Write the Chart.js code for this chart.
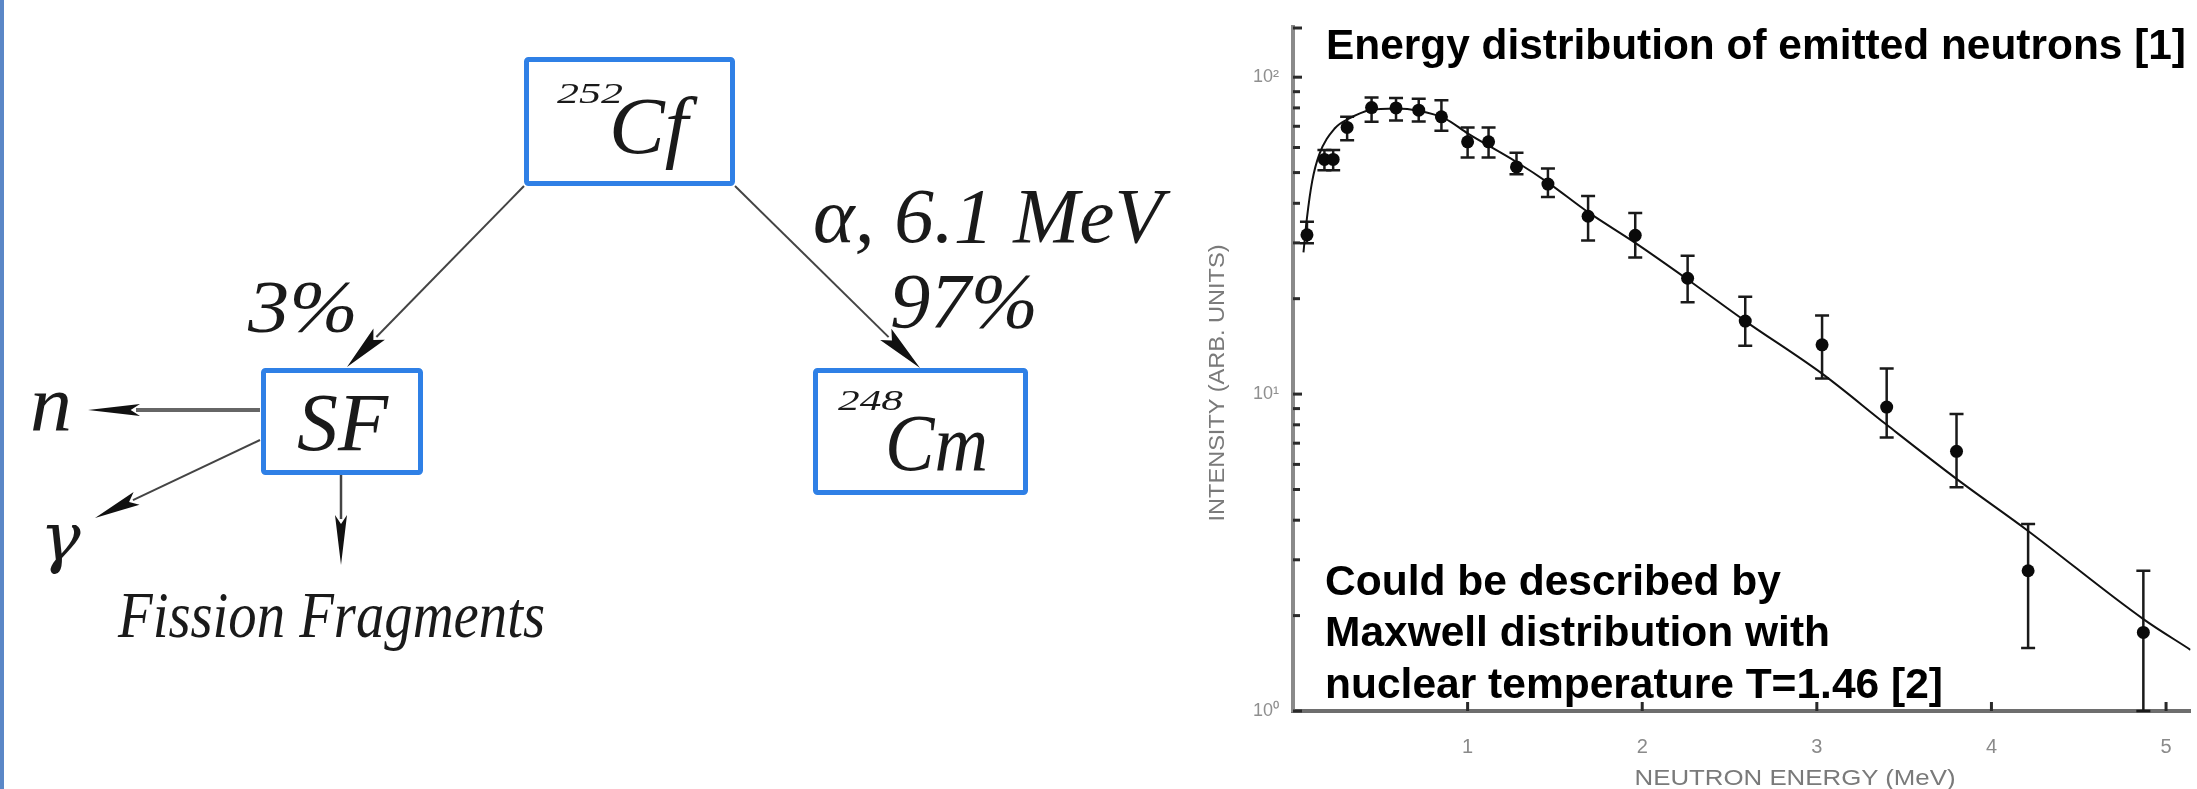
<!DOCTYPE html>
<html><head><meta charset="utf-8">
<script src="https://cdn.jsdelivr.net/npm/chart.js@4.4.0/dist/chart.umd.min.js"></script>
<style>
html,body{margin:0;padding:0;background:#fff;width:2197px;height:789px;overflow:hidden;}
#wrap{position:relative;width:2197px;height:789px;background:#fff;}
#chartBox{position:absolute;left:1180px;top:0;width:1017px;height:789px;}
#ov{position:absolute;left:0;top:0;pointer-events:none;}
.dg{font-family:"Liberation Serif","Times New Roman",serif;font-style:italic;fill:#1a1a1a;}
.gm{font-family:"DejaVu Serif",serif;font-style:italic;fill:#1a1a1a;}
.cb{font-family:"Liberation Sans",Arial,sans-serif;font-weight:bold;fill:#000;}
.ax{font-family:"Liberation Sans",Arial,sans-serif;fill:#7a7a7a;}
</style></head><body>
<div id="wrap">
<div id="chartBox"><canvas id="c" width="1017" height="789" style="width:1017px;height:789px"></canvas></div>
<svg id="ov" width="2197" height="789" xmlns="http://www.w3.org/2000/svg">
  <rect x="0" y="0" width="4" height="789" fill="#5b87c7"/>
  <g fill="none" stroke="#2f80e6" stroke-width="5">
    <rect x="526.5" y="59.5" width="206" height="124" rx="2"/>
    <rect x="263.5" y="370.5" width="157" height="102" rx="2"/>
    <rect x="815.5" y="370.5" width="210" height="122" rx="2"/>
  </g>
  <g id="arrows"></g>
  <text class="dg" x="557" y="103" font-size="29" textLength="66" lengthAdjust="spacingAndGlyphs">252</text>
  <text class="dg" x="609" y="153" font-size="80" textLength="79" lengthAdjust="spacingAndGlyphs">Cf</text>
  <text class="dg" x="248" y="332" font-size="75" textLength="110" lengthAdjust="spacingAndGlyphs">3%</text>
  <text class="dg" x="813" y="242" font-size="78" textLength="350" lengthAdjust="spacingAndGlyphs">α, 6.1 MeV</text>
  <text class="dg" x="890" y="327" font-size="78" textLength="148" lengthAdjust="spacingAndGlyphs">97%</text>
  <text class="dg" x="297" y="450" font-size="82" textLength="91" lengthAdjust="spacingAndGlyphs">SF</text>
  <text class="dg" x="838" y="410" font-size="30" textLength="65" lengthAdjust="spacingAndGlyphs">248</text>
  <text class="dg" x="885" y="470" font-size="80" textLength="103" lengthAdjust="spacingAndGlyphs">Cm</text>
  <text class="dg" x="30" y="430" font-size="80" textLength="42" lengthAdjust="spacingAndGlyphs">n</text>
  <text class="gm" x="40" y="560" font-size="68">γ</text>
  <text class="dg" x="118" y="637" font-size="66" textLength="427" lengthAdjust="spacingAndGlyphs">Fission Fragments</text>

  <text class="cb" x="1326" y="59" font-size="42" textLength="860" lengthAdjust="spacingAndGlyphs">Energy distribution of emitted neutrons [1]</text>
  <text class="cb" x="1325" y="595" font-size="42" textLength="456" lengthAdjust="spacingAndGlyphs">Could be described by</text>
  <text class="cb" x="1325" y="646" font-size="42" textLength="505" lengthAdjust="spacingAndGlyphs">Maxwell distribution with</text>
  <text class="cb" x="1325" y="698" font-size="42" textLength="618" lengthAdjust="spacingAndGlyphs">nuclear temperature T=1.46 [2]</text>
  <text class="ax" font-size="22" text-anchor="middle" dominant-baseline="central" transform="translate(1216,383) rotate(-90)" textLength="277" lengthAdjust="spacingAndGlyphs">INTENSITY (ARB. UNITS)</text>
  <text class="ax" x="1795" y="777" font-size="22" text-anchor="middle" dominant-baseline="central" textLength="321" lengthAdjust="spacingAndGlyphs">NEUTRON ENERGY (MeV)</text>
</svg>
</div>
<script>
// ---- data ----
const energyMeV   = [0.08, 0.18, 0.23, 0.31, 0.45, 0.59, 0.72, 0.85, 1.00, 1.12, 1.28, 1.46, 1.69, 1.96, 2.26, 2.59, 3.03, 3.40, 3.80, 4.21, 4.87];
const intensity   = [31.8, 55, 55, 69.4, 80.2, 80, 78.7, 75, 62.5, 62.5, 52.1, 46, 36.4, 31.7, 23.2, 17.0, 14.3, 9.1, 6.6, 2.77, 1.77];
const errHigh     = [35, 58.9, 58.9, 75, 86.3, 86, 85.5, 84.5, 69.4, 69.4, 57.7, 51.5, 42.2, 37.3, 27.3, 20.3, 17.7, 12.05, 8.65, 3.89, 2.77];
const errLow      = [29.9, 50.9, 50.9, 63.2, 72.3, 73, 72.5, 67.8, 55.8, 55.8, 49.4, 41.9, 30.5, 27.0, 19.5, 14.2, 11.2, 7.3, 5.08, 1.58, 1.0];
const curveEnergy    = [0.06, 0.08, 0.11, 0.15, 0.24, 0.32, 0.44, 0.59, 0.72, 0.87, 1.00, 1.28, 1.46, 1.69, 1.96, 2.26, 2.59, 3.03, 3.40, 3.80, 4.21, 4.87, 5.14];
const curveIntensity = [28, 36, 47, 57, 69, 74, 78.7, 79.6, 78.3, 74, 66.5, 54, 46.5, 37.5, 30, 23, 17, 11.6, 8.0, 5.4, 3.7, 1.95, 1.56];
const xTickValues = [1, 2, 3, 4, 5];
const yTickValues = [1, 10, 100];
const yTickLabels = ['10⁰', '10¹', '10²'];

// ---- diagram arrows (illustration, not data) ----
(function(){
  const g = document.getElementById('arrows');
  const NS = 'http://www.w3.org/2000/svg';
  function arrow(x1,y1,x2,y2,len,hw,col,lw){
    const dx=x2-x1, dy=y2-y1, L=Math.hypot(dx,dy), ux=dx/L, uy=dy/L, nx=-uy, ny=ux;
    const bx=x2-ux*len, by=y2-uy*len;
    const ln=document.createElementNS(NS,'line');
    ln.setAttribute('x1',x1);ln.setAttribute('y1',y1);ln.setAttribute('x2',bx+ux*4);ln.setAttribute('y2',by+uy*4);
    ln.setAttribute('stroke',col);ln.setAttribute('stroke-width',lw);g.appendChild(ln);
    const p=document.createElementNS(NS,'polygon');
    const mx=bx+ux*len*0.18, my=by+uy*len*0.18;
    p.setAttribute('points',`${x2},${y2} ${bx+nx*hw},${by+ny*hw} ${mx},${my} ${bx-nx*hw},${by-ny*hw}`);
    p.setAttribute('fill','#111');g.appendChild(p);
  }
  arrow(524,186,347,367,46,8,'#444',2);
  arrow(735,186,920,368,48,8,'#444',2);
  arrow(260,410,88,410,52,6,'#666',4);
  arrow(260,440,95,518,46,7,'#444',2);
  arrow(341,475,341,565,50,6,'#444',2.5);
})();

// ---- chart ----
const errorBars = {
  id: 'errorBars',
  beforeDatasetsDraw(chart){
    const {ctx, scales:{x, y}} = chart;
    ctx.save();
    ctx.strokeStyle = '#1a1a1a'; ctx.lineWidth = 2.5;
    energyMeV.forEach((e, i) => {
      const px = x.getPixelForValue(e);
      const yl = y.getPixelForValue(errLow[i]);
      const yh = y.getPixelForValue(errHigh[i]);
      ctx.beginPath();
      ctx.moveTo(px, yl); ctx.lineTo(px, yh);
      ctx.moveTo(px - 7, yh); ctx.lineTo(px + 7, yh);
      ctx.moveTo(px - 7, yl); ctx.lineTo(px + 7, yl);
      ctx.stroke();
    });
    ctx.restore();
  }
};
const axisTicks = {
  id: 'axisTicks',
  afterDraw(chart){
    const {ctx, chartArea:a, scales:{x, y}} = chart;
    ctx.save();
    ctx.strokeStyle = '#2a2a2a'; ctx.lineWidth = 3;
    for (let d = 1; d <= 100; d *= 10) {
      for (let m = 1; m <= 9; m++) {
        const v = d * m;
        if (v > y.max) continue;
        const py = y.getPixelForValue(v);
        ctx.beginPath(); ctx.moveTo(a.left, py); ctx.lineTo(a.left + (m === 1 ? 9 : 7), py); ctx.stroke();
      }
    }
    ctx.beginPath(); ctx.moveTo(a.left, a.top + 1); ctx.lineTo(a.left + 9, a.top + 1); ctx.stroke();
    xTickValues.forEach(v => {
      const px = x.getPixelForValue(v);
      ctx.beginPath(); ctx.moveTo(px, a.bottom); ctx.lineTo(px, a.bottom - 9); ctx.stroke();
    });
    ctx.restore();
  }
};

new Chart(document.getElementById('c'), {
  type: 'scatter',
  data: {
    datasets: [
      {
        type: 'scatter', label: 'Measured', order: 1,
        data: energyMeV.map((e, i) => ({x: e, y: intensity[i]})),
        pointRadius: 6.5, pointBackgroundColor: '#0a0a0a', pointBorderWidth: 0, pointHoverRadius: 6.5
      },
      {
        type: 'line', label: 'Maxwell fit', order: 2,
        data: curveEnergy.map((e, i) => ({x: e, y: curveIntensity[i]})),
        borderColor: '#111', borderWidth: 2, pointRadius: 0, fill: false,
        cubicInterpolationMode: 'monotone'
      }
    ]
  },
  options: {
    responsive: false, animation: false, devicePixelRatio: 1,
    layout: {padding: {top: 27, right: 0, left: 0, bottom: 0}},
    plugins: {legend: {display: false}, title: {display: false}, tooltip: {enabled: false}},
    scales: {
      x: {
        type: 'linear', min: 0, max: 5.14,
        afterFit(s){ s.height = 78; },
        afterBuildTicks(s){ s.ticks = xTickValues.map(v => ({value: v})); },
        grid: {display: false},
        border: {display: true, color: '#6e6e6e', width: 4},
        ticks: {font: {family: 'Liberation Sans', size: 20}, color: '#8a8a8a', padding: 16, callback: v => String(v)}
      },
      y: {
        type: 'logarithmic', min: 1, max: 144,
        afterFit(s){ s.width = 113; },
        afterBuildTicks(s){ s.ticks = yTickValues.map(v => ({value: v})); },
        grid: {display: false},
        border: {display: true, color: '#8a8a8a', width: 4},
        ticks: {font: {family: 'Liberation Sans', size: 18}, color: '#8f8f8f', padding: 6,
          callback: v => { const i = yTickValues.indexOf(v); return i >= 0 ? yTickLabels[i] : ''; }}
      }
    }
  },
  plugins: [errorBars, axisTicks]
});
</script>
</body></html>
